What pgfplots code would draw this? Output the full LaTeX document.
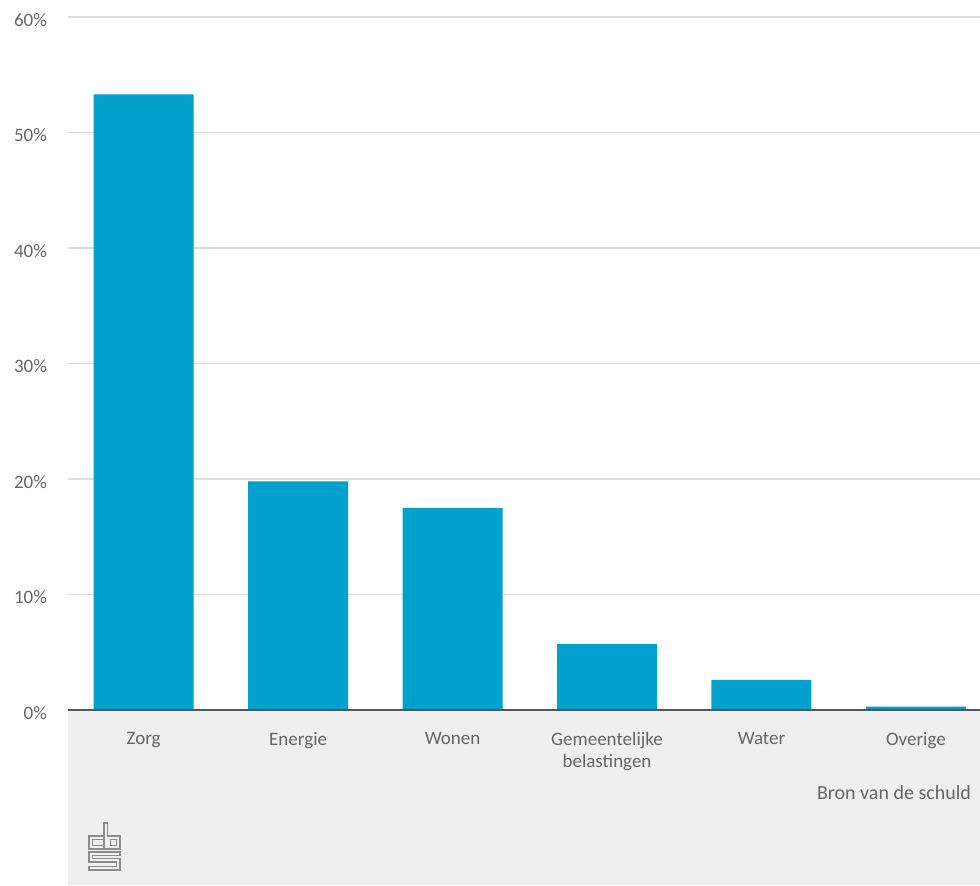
\documentclass[border=0pt]{standalone}
\usepackage{fontspec}
\setmainfont{Carlito}
\usepackage{pgfplots}
\pgfplotsset{compat=1.18}
\definecolor{cbsblue}{HTML}{00A1CD}
\definecolor{bggray}{HTML}{EFEFEF}
\definecolor{txtgray}{HTML}{666666}
\definecolor{gridgray}{HTML}{DEDEDE}
\definecolor{axisgray}{HTML}{555555}
\definecolor{logogray}{HTML}{8C8C8C}
\begin{document}
\begin{tikzpicture}
\useasboundingbox (-34pt,-87.5pt) rectangle (456pt,355pt);
\fill[bggray] (0,0) rectangle (456pt,-87.5pt);
\begin{axis}[
  at={(0,0)}, anchor=south west, scale only axis,
  width=456pt, height=346.5pt,
  xmin=-0.49, xmax=5.415, ymin=0, ymax=60,
  ybar, bar width=50pt,
  axis line style={draw=none},
  tick style={draw=none},
  ymajorgrids, grid style={gridgray, line width=0.75pt},
  ytick={0,10,...,60},
  /pgf/number format/assume math mode=true,
  yticklabel={\pgfmathprintnumber{\tick}\%},
  yticklabel style={text=txtgray, font=\fontsize{9.5}{11}\selectfont, xshift=-7pt, yshift=-1.5pt},
  xtick={0,1,2,3,4,5},
  xticklabels={Zorg, Energie, Wonen, {Gemeentelijke\\belastingen}, Water, Overige},
  xticklabel style={text=txtgray, font=\fontsize{9.5}{11}\selectfont, align=center, anchor=north, yshift=-3.5pt},
  xlabel={Bron van de schuld},
  xlabel style={at={(axis description cs:1,0)}, anchor=east, yshift=-41.5pt, xshift=-1pt, text=txtgray, font=\fontsize{10}{12}\selectfont},
]
\addplot[fill=cbsblue, draw=none] coordinates {(0,53.3) (1,19.8) (2,17.5) (3,5.7) (4,2.6) (5,0.3)};
\draw[axisgray, line width=1.3pt] (axis cs:-0.49,0) -- (axis cs:5.415,0);
\end{axis}
\begin{scope}[x=0.5pt, y=-0.5pt, shift={(-68,-710)}, logogray, line width=0.6pt]
  % c
  \draw (103,836) -- (89,836) -- (89,849) -- (103,849);
  \draw (103,839.5) -- (92.5,839.5) -- (92.5,845.5) -- (103,845.5);
  % b
  \draw (104,823) -- (104,849) -- (120,849) -- (120,836) -- (107.5,836) -- (107.5,823) -- cycle;
  \draw (110.5,839.5) rectangle (116.5,845.5);
  % s
  \draw (120,852) -- (89,852) -- (89,862) -- (116.5,862) -- (116.5,866.5) -- (89,866.5) -- (89,870) -- (120,870) -- (120,858.5) -- (92.5,858.5) -- (92.5,855.5) -- (120,855.5) -- cycle;
\end{scope}
\end{tikzpicture}
\end{document}
